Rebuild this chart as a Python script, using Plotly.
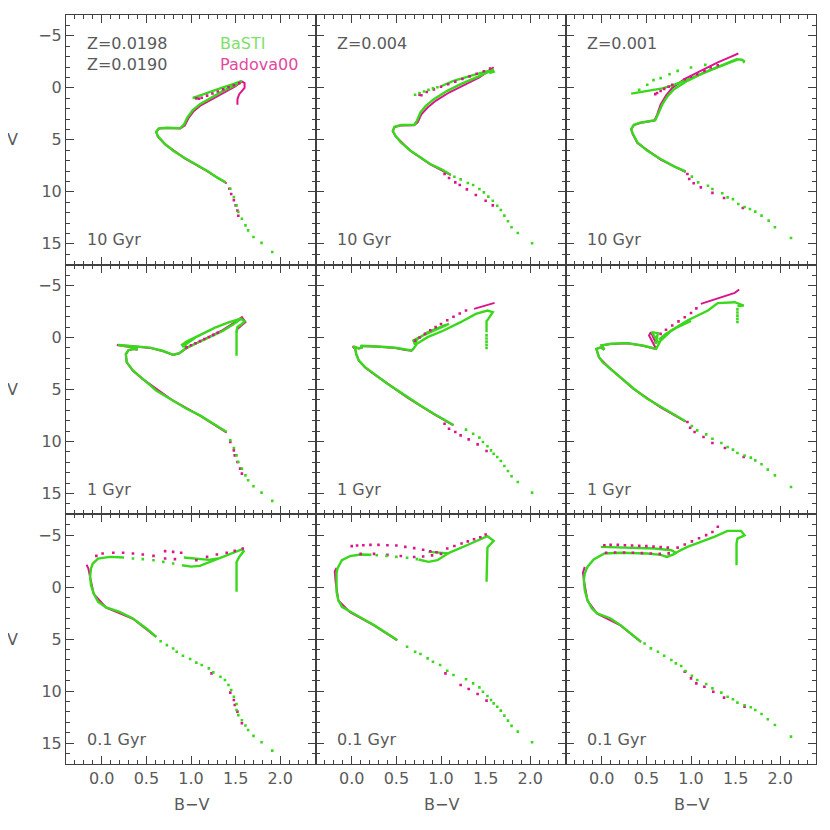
import plotly.graph_objects as go
from plotly.subplots import make_subplots

# ---- 10 Gyr, Z=0.0198 (BaSTI) / Z=0.0190 (Padova00) ----
basti_a_line_bv = [1.39, 1.29, 1.18, 1.06, 0.93, 0.80, 0.71, 0.63, 0.61, 0.64, 0.73, 0.88, 0.92, 0.96, 1.02, 1.10, 1.23, 1.36, 1.48, 1.56,
                   None, 1.10, 1.02, 1.08, 1.20, 1.35, 1.48, 1.57]
basti_a_line_v = [9.09, 8.61, 7.97, 7.39, 6.75, 6.05, 5.41, 4.67, 4.22, 3.90, 3.84, 3.87, 3.55, 2.85, 2.14, 1.57, 0.93, 0.29, -0.19, -0.60,
                  None, 1.05, 0.96, 0.80, 0.42, -0.02, -0.38, -0.67]
basti_a_dots_bv = [1.91, 1.79, 1.70, 1.64, 1.61, 1.57, 1.53, 1.51, 1.48, 1.44]
basti_a_dots_v = [15.78, 14.91, 14.34, 13.70, 13.22, 12.58, 11.94, 11.30, 10.50, 9.70]
padova_a_line_bv = [1.40, 1.18, 0.93, 0.71, 0.63, 0.61, 0.64, 0.73, 0.88, 0.93, 0.97, 1.03, 1.11, 1.24, 1.37, 1.49, 1.57, 1.60, 1.60, 1.54, 1.52, 1.52]
padova_a_line_v = [9.20, 8.00, 6.78, 5.44, 4.70, 4.25, 3.92, 3.86, 3.90, 3.62, 2.95, 2.25, 1.68, 1.05, 0.40, -0.10, -0.62, -0.45, 0.00, 0.61, 1.09, 1.63]
padova_a_dots_bv = [1.06, 1.09, 1.12, 1.18, 1.24, 1.30, 1.36, 1.42, 1.48, 1.54, 1.43, 1.45, 1.48, 1.50, 1.52, 1.53]
padova_a_dots_v = [1.00, 1.05, 0.95, 0.75, 0.55, 0.35, 0.15, -0.05, -0.25, -0.45, 9.70, 10.20, 10.80, 11.30, 11.80, 12.30]

# ---- 10 Gyr, Z=0.004 ----
basti_b_line_bv = [1.11, 1.00, 0.88, 0.77, 0.66, 0.55, 0.49, 0.46, 0.48, 0.55, 0.70, 0.73, 0.77, 0.83, 0.92, 1.07, 1.22, 1.41, 1.52, 1.58, 1.59, 1.54,
                   None, 1.00, 1.14, 1.37, 1.58]
basti_b_line_v = [8.35, 7.81, 7.33, 6.69, 6.05, 5.25, 4.61, 4.13, 3.74, 3.58, 3.55, 3.17, 2.37, 1.73, 1.09, 0.29, -0.35, -1.06, -1.50, -1.72, -1.55, -1.42,
                  None, -0.15, -0.67, -1.25, -1.75]
basti_b_dots_bv = [0.71, 0.76, 0.81, 0.86, 0.91, 0.96, 1.15, 1.22, 1.30, 1.36, 1.43, 1.48, 1.53, 1.58, 1.63, 1.67, 1.71, 1.75, 1.79, 1.86, 2.02]
basti_b_dots_v = [0.67, 0.50, 0.35, 0.20, 0.05, -0.05, 8.55, 8.80, 9.15, 9.34, 9.73, 10.05, 10.46, 10.85, 11.33, 11.74, 12.29, 12.83, 13.41, 13.95, 14.94]
padova_b_line_bv = [1.11, 0.88, 0.66, 0.49, 0.46, 0.48, 0.55, 0.70, 0.74, 0.78, 0.85, 0.94, 1.09, 1.24, 1.43, 1.59]
padova_b_line_v = [8.40, 7.36, 6.08, 4.64, 4.16, 3.77, 3.62, 3.60, 3.30, 2.55, 1.90, 1.25, 0.45, -0.22, -1.00, -1.98]
padova_b_dots_bv = [0.76, 0.78, 0.84, 0.92, 1.00, 1.08, 1.16, 1.24, 1.32, 1.40, 1.48, 1.55, 1.04, 1.09, 1.16, 1.21, 1.29, 1.39, 1.50, 1.58]
padova_b_dots_v = [0.67, 0.72, 0.40, 0.15, -0.10, -0.35, -0.60, -0.85, -1.10, -1.35, -1.60, -1.85, 8.29, 8.67, 9.09, 9.34, 9.76, 10.30, 10.85, 11.30]

# ---- 10 Gyr, Z=0.001 ----
basti_c_line_bv = [0.94, 0.81, 0.66, 0.51, 0.40, 0.35, 0.33, 0.36, 0.44, 0.60, 0.63, 0.68, 0.74, 0.81, 0.96, 1.15, 1.38, 1.51, 1.57, 1.60, 1.58,
                   None, 0.33, 0.45, 0.58, 0.68, 0.80, 1.00, 1.20, 1.40, 1.52]
basti_c_line_v = [8.03, 7.55, 6.85, 6.05, 5.25, 4.45, 3.97, 3.55, 3.33, 3.10, 2.53, 1.57, 0.77, 0.13, -0.67, -1.47, -2.27, -2.75, -2.70, -2.53, -2.45,
                  None, 0.56, 0.40, 0.22, 0.05, -0.25, -0.90, -1.65, -2.35, -2.70]
basti_c_dots_bv = [0.42, 0.51, 0.58, 0.66, 0.76, 0.85, 1.00, 1.16,
                   1.01, 1.08, 1.19, 1.24, 1.35, 1.41, 1.47, 1.53, 1.60, 1.66, 1.72, 1.79, 1.87, 1.94, 2.12]
basti_c_dots_v = [0.19, -0.29, -0.74, -0.93, -1.31, -1.63, -1.95, -2.21,
                  8.54, 9.09, 9.41, 9.73, 10.14, 10.53, 10.70, 11.17, 11.45, 11.65, 11.90, 12.29, 12.77, 13.41, 14.43]
padova_c_line_bv = [0.94, 0.66, 0.40, 0.35, 0.33, 0.36, 0.44, 0.59, 0.62, 0.66, 0.72, 0.79, 0.93, 1.12, 1.30, 1.45, 1.53]
padova_c_line_v = [8.10, 6.90, 5.30, 4.50, 4.00, 3.58, 3.36, 3.15, 2.60, 1.60, 0.75, 0.00, -0.85, -1.70, -2.45, -3.00, -3.30]
padova_c_dots_bv = [0.60, 0.62, 0.66, 0.70, 0.75, 0.79, 0.93, 1.00, 1.07, 1.15, 1.22, 1.30, 0.96, 0.98, 1.03, 1.11, 1.24, 1.37, 1.58]
padova_c_dots_v = [0.61, 0.50, 0.30, 0.10, -0.10, -0.30, -0.83, -1.06, -1.31, -1.63, -1.95, -2.17, 8.29, 8.77, 9.18, 9.57, 10.10, 10.59, 11.55]

# ---- 1 Gyr, Z=0.0198 / 0.0190 ----
basti_d_line_bv = [1.40, 1.25, 1.10, 0.95, 0.80, 0.61, 0.46, 0.35, 0.28, 0.27, 0.30, 0.36, 0.40, 0.37, 0.18, 0.35, 0.54, 0.69, 0.80, 0.87,
                   0.95, 1.05, 1.20, 1.35, 1.48, 1.56, 1.60, 1.57, 1.52, 1.51, 1.51,
                   None, 0.92, 0.90, 0.95, 1.10, 1.27, 1.20, 1.05, 0.95, 0.92,
                   None, 1.27, 1.42, 1.56]
basti_d_line_v = [9.09, 8.29, 7.49, 6.85, 6.05, 5.09, 3.97, 3.17, 2.37, 1.60, 1.20, 1.10, 1.15, 0.95, 0.72, 0.82, 0.98, 1.30, 1.66, 1.50,
                  1.00, 0.60, 0.00, -0.60, -1.30, -1.80, -1.55, -1.30, -1.00, -0.60, 1.75,
                  None, 0.95, 0.70, 0.40, -0.25, -0.95, -0.70, 0.00, 0.60, 0.95,
                  None, -0.95, -1.45, -1.80]
basti_d_dots_bv = [1.91, 1.79, 1.70, 1.64, 1.61, 1.57, 1.53, 1.51, 1.48, 1.44]
basti_d_dots_v = [15.71, 14.91, 14.30, 13.73, 13.25, 12.61, 11.97, 11.33, 10.62, 9.89]
padova_d_line_bv = [1.40, 1.10, 0.80, 0.46, 0.35, 0.28, 0.27, 0.30, 0.36, 0.40, 0.37, 0.17, 0.35, 0.54, 0.69, 0.80, 0.87, 0.95, 1.05, 1.20,
                    1.35, 1.48, 1.57, 1.61, 1.52, 1.51]
padova_d_line_v = [9.15, 7.52, 6.08, 4.00, 3.20, 2.40, 1.62, 1.22, 1.12, 1.18, 0.98, 0.72, 0.84, 1.00, 1.33, 1.68, 1.52, 1.02, 0.58, -0.05,
                   -0.68, -1.40, -1.95, -1.47, -0.83, -0.50]
padova_d_dots_bv = [0.95, 1.00, 1.05, 1.10, 1.15, 1.20, 1.25, 1.30, 1.44, 1.48, 1.49, 1.52, 1.55, 1.57]
padova_d_dots_v = [0.95, 0.75, 0.55, 0.35, 0.15, -0.05, -0.25, -0.45, 10.05, 10.85, 11.33, 11.97, 12.61, 13.09]

# ---- 1 Gyr, Z=0.004 ----
basti_e_line_bv = [1.14, 1.03, 0.92, 0.77, 0.62, 0.53, 0.40, 0.25, 0.15, 0.08, 0.05, 0.04, 0.02, 0.08, 0.12, 0.10, 0.30, 0.49, 0.60, 0.67,
                   0.70, 0.73, 0.85, 1.03, 1.22, 1.39, 1.52, 1.58, 1.53, 1.51, 1.51,
                   None, 0.71, 0.69, 0.75, 0.90, 1.09, 1.03, 0.85, 0.73, 0.71]
basti_e_line_v = [8.42, 7.90, 7.33, 6.53, 5.73, 5.18, 4.45, 3.49, 2.85, 2.21, 1.57, 1.09, 0.86, 1.05, 0.95, 0.80, 0.86, 0.99, 1.18, 1.25,
                  0.99, 0.61, -0.03, -0.67, -1.47, -2.27, -2.59, -2.43, -1.79, -1.57, -0.51,
                  None, 0.70, 0.30, 0.00, -0.55, -1.30, -1.15, -0.50, 0.20, 0.70]
basti_e_dots_bv = [1.51, 1.51, 1.51, 1.51, 1.51, 1.28, 1.36, 1.43, 1.47, 1.52, 1.56, 1.59, 1.63, 1.67, 1.71, 1.75, 1.79, 1.86, 2.02]
basti_e_dots_v = [-0.20, 0.10, 0.40, 0.70, 1.00, 8.86, 9.25, 9.63, 10.05, 10.46, 10.85, 11.17, 11.49, 11.87, 12.35, 12.83, 13.34, 13.89, 14.91]
padova_e_line_bv = [1.14, 0.92, 0.62, 0.40, 0.25, 0.15, 0.08, 0.05, 0.04, 0.01, 0.08, 0.12, 0.10, 0.30, 0.49, 0.60, 0.67, 0.70,
                    None, 1.37, 1.48, 1.60]
padova_e_line_v = [8.45, 7.36, 5.76, 4.48, 3.52, 2.88, 2.24, 1.60, 1.12, 0.86, 1.06, 0.96, 0.82, 0.88, 1.01, 1.20, 1.27, 1.00,
                   None, -2.75, -3.05, -3.33]
padova_e_dots_bv = [0.71, 0.76, 0.82, 0.88, 0.94, 1.00, 1.07, 1.14, 1.21, 1.28, 1.04, 1.09, 1.16, 1.22, 1.31, 1.41, 1.51]
padova_e_dots_v = [0.30, 0.00, -0.35, -0.70, -1.00, -1.30, -1.65, -2.00, -2.30, -2.60, 8.29, 8.77, 9.09, 9.41, 9.79, 10.27, 10.91]

# ---- 1 Gyr, Z=0.001 ----
basti_f_line_bv = [0.94, 0.81, 0.66, 0.51, 0.36, 0.21, 0.10, 0.01, -0.03, -0.05, -0.06, -0.01, 0.03, 0.00, 0.10, 0.29, 0.46, 0.61,
                   0.66, 0.78, 0.96, 1.19, 1.30, 1.49, 1.59, 1.52,
                   None, 0.64, 0.56, 0.63, 0.60,
                   None, 0.64, 0.72, 0.85, 1.00]
basti_f_line_v = [8.06, 7.39, 6.69, 5.89, 4.93, 3.81, 3.01, 2.37, 1.89, 1.41, 1.09, 0.95, 1.15, 0.75, 0.60, 0.54, 0.77, 1.09,
                  0.29, -0.67, -1.63, -2.59, -3.30, -3.39, -3.07, -3.01,
                  None, 0.55, -0.51, -0.42, 0.61,
                  None, 0.20, -0.35, -1.00, -1.60]
basti_f_dots_bv = [1.52, 1.52, 1.52, 1.52, 1.52, 1.01, 1.07, 1.17, 1.24, 1.34, 1.41, 1.47, 1.52, 1.60, 1.67, 1.72, 1.79, 1.86, 1.94, 2.12]
basti_f_dots_v = [-2.70, -2.40, -2.10, -1.80, -1.50, 8.51, 8.93, 9.31, 9.73, 10.14, 10.53, 10.78, 11.10, 11.35, 11.55, 11.81, 12.19, 12.70, 13.25, 14.37]
padova_f_line_bv = [0.94, 0.66, 0.36, 0.10, -0.03, -0.06, -0.01, 0.03, 0.00, 0.10, 0.29, 0.46, 0.61, 0.53, 0.55, 0.61,
                    None, 1.11, 1.30, 1.49, 1.54]
padova_f_line_v = [8.10, 6.72, 4.96, 3.04, 1.92, 1.12, 0.97, 1.17, 0.77, 0.62, 0.56, 0.79, 1.11, -0.19, -0.51, 0.61,
                   None, -3.23, -3.75, -4.29, -4.61]
padova_f_dots_bv = [0.66, 0.72, 0.79, 0.86, 0.93, 1.00, 1.06, 0.96, 0.99, 1.04, 1.14, 1.24, 1.38, 1.59]
padova_f_dots_v = [-0.35, -0.75, -1.15, -1.55, -1.95, -2.35, -2.80, 8.13, 8.67, 9.09, 9.57, 10.14, 10.62, 11.49]

# ---- 0.1 Gyr, Z=0.0198 / 0.0190 ----
basti_g_line_bv = [0.61, 0.50, 0.35, 0.20, 0.05, -0.04, -0.09, -0.12, -0.13, -0.12, -0.10, -0.04, 0.09, 0.25,
                   None, 0.90, 1.00, 1.10, 1.25, 1.40, 1.50, 1.57, 1.59, 1.54, 1.51, 1.51,
                   None, 0.92, 1.05, 1.20, 1.30]
basti_g_line_v = [4.77, 3.97, 3.01, 2.37, 1.95, 1.41, 0.61, -0.19, -0.99, -1.79, -2.27, -2.75, -2.91, -2.85,
                  None, -2.11, -1.97, -2.05, -2.55, -3.00, -3.35, -3.62, -3.45, -2.90, -2.40, 0.45,
                  None, -2.85, -2.72, -2.62, -2.75]
basti_g_dots_bv = [0.35, 0.46, 0.58, 0.69, 0.80, 0.66, 0.73, 0.80, 0.84, 0.91, 0.99, 1.06, 1.12, 1.20, 1.25, 1.33, 1.38, 1.42,
                   1.45, 1.48, 1.51, 1.51, 1.53, 1.57, 1.61, 1.64, 1.70, 1.79, 1.91]
basti_g_dots_v = [-2.75, -2.69, -2.59, -2.43, -2.27, 5.20, 5.57, 5.90, 6.21, 6.59, 6.91, 7.26, 7.49, 7.81, 8.19, 8.61, 8.93, 9.41,
                  9.89, 10.53, 11.23, 11.81, 12.30, 12.80, 13.30, 13.73, 14.30, 14.91, 15.71]
padova_g_line_bv = [0.61, 0.35, 0.05, -0.09, -0.13, -0.15, -0.17]
padova_g_line_v = [4.80, 3.04, 1.98, 0.64, -0.96, -1.80, -2.15]
padova_g_dots_bv = [-0.06, 0.01, 0.13, 0.24, 0.35, 0.46, 0.58, 0.71, 0.80, 0.89, 0.71, 0.82,
                    1.06, 1.18, 1.29, 1.40, 1.49, 1.58, 1.23, 1.44, 1.48, 1.49, 1.52, 1.57]
padova_g_dots_v = [-3.01, -3.23, -3.30, -3.30, -3.23, -3.14, -3.01, -3.46, -3.39, -3.30, -2.75, -2.69,
                   -2.59, -2.91, -3.14, -3.30, -3.49, -3.71, 8.29, 10.14, 10.85, 11.33, 11.97, 13.09]

# ---- 0.1 Gyr, Z=0.004 ----
basti_h_line_bv = [0.51, 0.40, 0.25, 0.10, -0.02, -0.11, -0.15, -0.17, -0.17, -0.17, -0.16, -0.11, -0.02, 0.10, 0.22,
                   None, 0.75, 0.86, 0.96, 1.09, 1.29, 1.52, 1.59, 1.52, 1.51,
                   None, 0.86, 0.99, 1.09]
basti_h_line_v = [5.09, 4.45, 3.65, 2.91, 2.37, 1.89, 1.25, 0.45, -0.51, -1.31, -1.79, -2.59, -2.98, -3.14, -3.12,
                  None, -2.66, -2.43, -2.59, -3.30, -4.03, -4.90, -4.45, -3.81, -0.51,
                  None, -3.39, -3.33, -3.25]
basti_h_dots_bv = [0.28, 0.39, 0.50, 0.62, 0.73, 0.62, 0.71, 0.77, 0.85, 0.91, 0.99, 1.07, 1.14, 1.28, 1.36, 1.43, 1.47, 1.52,
                   1.56, 1.59, 1.63, 1.67, 1.71, 1.75, 1.79, 1.86, 2.02]
basti_h_dots_v = [-3.07, -3.01, -2.91, -2.82, -2.69, 5.73, 6.21, 6.43, 6.85, 7.17, 7.49, 8.03, 8.45, 8.86, 9.25, 9.63, 10.05, 10.46,
                  10.85, 11.17, 11.49, 11.87, 12.35, 12.83, 13.34, 13.89, 14.91]
padova_h_line_bv = [0.51, 0.25, -0.02, -0.15, -0.18, -0.19, -0.17]
padova_h_line_v = [5.12, 3.68, 2.40, 1.28, -0.50, -1.50, -1.85]
padova_h_dots_bv = [0.00, 0.06, 0.13, 0.21, 0.30, 0.40, 0.50, 0.60, 0.70, 0.80, 0.88, 0.95,
                    0.10, 0.25, 0.40, 0.55, 0.70, 0.80, 0.90, 1.00,
                    1.07, 1.15, 1.23, 1.30, 1.37, 1.44, 1.50, 1.05, 1.22, 1.31, 1.41, 1.51]
padova_h_dots_v = [-3.94, -4.00, -4.03, -4.06, -4.06, -4.03, -4.00, -3.87, -3.75, -3.60, -3.45, -3.35,
                   -3.20, -3.20, -3.10, -3.00, -2.90, -2.95, -3.05, -3.20,
                   -3.71, -3.95, -4.20, -4.40, -4.60, -4.80, -5.06, 8.29, 9.41, 9.79, 10.27, 10.91]

# ---- 0.1 Gyr, Z=0.001 ----
basti_i_line_bv = [0.44, 0.33, 0.21, 0.10, -0.05, -0.11, -0.16, -0.19, -0.20, -0.19, -0.16, -0.09, 0.03, 0.21, 0.51, 0.66, 0.73, 0.81,
                   0.87, 0.96, 1.26, 1.41, 1.56, 1.60, 1.52, 1.51, 1.51,
                   None, -0.01, 0.29, 0.59, 0.78, 0.83]
basti_i_line_v = [5.25, 4.45, 3.65, 3.01, 2.53, 2.05, 1.25, 0.29, -0.67, -1.31, -1.95, -2.66, -3.23, -3.30, -3.23, -3.10, -2.91, -3.17,
                  -3.49, -3.87, -4.83, -5.41, -5.41, -4.99, -4.67, -4.19, -2.11,
                  None, -3.87, -3.81, -3.71, -3.55, -3.30]
basti_i_dots_bv = [0.48, 0.55, 0.63, 0.70, 0.78, 0.83, 0.89, 0.94, 1.01, 1.07, 1.17, 1.24, 1.34, 1.41, 1.47, 1.52, 1.60, 1.67,
                   1.72, 1.79, 1.86, 1.94, 2.12]
basti_i_dots_v = [5.41, 5.89, 6.21, 6.59, 7.01, 7.33, 7.58, 8.06, 8.51, 8.93, 9.31, 9.73, 10.14, 10.53, 10.78, 11.10, 11.35, 11.55,
                  11.81, 12.19, 12.70, 13.25, 14.37]
padova_i_line_bv = [0.44, 0.21, -0.05, -0.16, -0.20, -0.21, -0.19]
padova_i_line_v = [5.28, 3.68, 2.56, 1.28, -0.67, -1.40, -1.95]
padova_i_dots_bv = [0.03, 0.10, 0.18, 0.26, 0.34, 0.42, 0.50, 0.58, 0.66, 0.74,
                    0.05, 0.15, 0.25, 0.35, 0.45, 0.55, 0.65, 0.75,
                    0.85, 0.93, 1.01, 1.09, 1.17, 1.24, 1.30, 0.93, 1.00, 1.06, 1.15, 1.25, 1.37, 1.60]
padova_i_dots_v = [-4.03, -4.06, -4.06, -4.03, -4.00, -3.97, -3.94, -3.90, -3.85, -3.80,
                   -3.30, -3.33, -3.33, -3.30, -3.27, -3.23, -3.20, -3.25,
                   -3.80, -4.10, -4.40, -4.70, -5.00, -5.30, -5.80, 8.13, 8.77, 9.25, 9.57, 10.05, 10.62, 11.49]

age_labels = ["10 Gyr", "1 Gyr", "0.1 Gyr"]
z_labels = ["Z=0.0198<br>Z=0.0190", "Z=0.004", "Z=0.001"]

GREEN = "#3ad81c"
MAGENTA = "#dc158c"
TEXT = "#5a5a5a"
AXIS = "#404040"
FONT = "DejaVu Sans"

panels = [
    (1, 1, basti_a_line_bv, basti_a_line_v, basti_a_dots_bv, basti_a_dots_v, padova_a_line_bv, padova_a_line_v, padova_a_dots_bv, padova_a_dots_v),
    (1, 2, basti_b_line_bv, basti_b_line_v, basti_b_dots_bv, basti_b_dots_v, padova_b_line_bv, padova_b_line_v, padova_b_dots_bv, padova_b_dots_v),
    (1, 3, basti_c_line_bv, basti_c_line_v, basti_c_dots_bv, basti_c_dots_v, padova_c_line_bv, padova_c_line_v, padova_c_dots_bv, padova_c_dots_v),
    (2, 1, basti_d_line_bv, basti_d_line_v, basti_d_dots_bv, basti_d_dots_v, padova_d_line_bv, padova_d_line_v, padova_d_dots_bv, padova_d_dots_v),
    (2, 2, basti_e_line_bv, basti_e_line_v, basti_e_dots_bv, basti_e_dots_v, padova_e_line_bv, padova_e_line_v, padova_e_dots_bv, padova_e_dots_v),
    (2, 3, basti_f_line_bv, basti_f_line_v, basti_f_dots_bv, basti_f_dots_v, padova_f_line_bv, padova_f_line_v, padova_f_dots_bv, padova_f_dots_v),
    (3, 1, basti_g_line_bv, basti_g_line_v, basti_g_dots_bv, basti_g_dots_v, padova_g_line_bv, padova_g_line_v, padova_g_dots_bv, padova_g_dots_v),
    (3, 2, basti_h_line_bv, basti_h_line_v, basti_h_dots_bv, basti_h_dots_v, padova_h_line_bv, padova_h_line_v, padova_h_dots_bv, padova_h_dots_v),
    (3, 3, basti_i_line_bv, basti_i_line_v, basti_i_dots_bv, basti_i_dots_v, padova_i_line_bv, padova_i_line_v, padova_i_dots_bv, padova_i_dots_v),
]

fig = make_subplots(rows=3, cols=3, shared_xaxes=True, shared_yaxes=True,
                    horizontal_spacing=0, vertical_spacing=0)

for row, col, bl_x, bl_y, bd_x, bd_y, pl_x, pl_y, pd_x, pd_y in panels:
    fig.add_trace(go.Scatter(x=pl_x, y=pl_y, mode="lines", line=dict(color=MAGENTA, width=2),
                             connectgaps=False, hoverinfo="skip"), row=row, col=col)
    fig.add_trace(go.Scatter(x=bl_x, y=bl_y, mode="lines", line=dict(color=GREEN, width=2.4),
                             connectgaps=False, hoverinfo="skip"), row=row, col=col)
    fig.add_trace(go.Scatter(x=pd_x, y=pd_y, mode="markers",
                             marker=dict(color=MAGENTA, size=2.6, symbol="square"), hoverinfo="skip"), row=row, col=col)
    fig.add_trace(go.Scatter(x=bd_x, y=bd_y, mode="markers",
                             marker=dict(color=GREEN, size=2.6, symbol="square"), hoverinfo="skip"), row=row, col=col)

axis_style = dict(showline=True, linecolor=AXIS, linewidth=1, mirror="allticks", automargin=False,
                  ticks="inside", tickcolor=AXIS, showgrid=False, zeroline=False,
                  tickfont=dict(family=FONT, size=16, color=TEXT))
fig.update_xaxes(range=[-0.4, 2.4], dtick=0.5, tick0=0, tickformat=".1f", ticklen=8,
                 minor=dict(dtick=0.1, ticklen=4, ticks="inside", tickcolor=AXIS), **axis_style)
fig.update_yaxes(range=[17, -7], dtick=5, tick0=0, ticklen=8,
                 minor=dict(dtick=1, ticklen=4, ticks="inside", tickcolor=AXIS), **axis_style)

annotations = []
for r in range(3):
    for c in range(3):
        idx = r * 3 + c + 1
        ref = "x domain" if idx == 1 else f"x{idx} domain"
        yref = "y domain" if idx == 1 else f"y{idx} domain"
        annotations.append(dict(text=age_labels[r], xref=ref, yref=yref, x=0.076, y=0.10,
                                xanchor="left", yanchor="middle", showarrow=False,
                                font=dict(family=FONT, size=16, color=TEXT)))
        if c == 0:
            # y axis title, left of the first column
            annotations.append(dict(text="V", xref=ref, yref=yref, x=-0.216, y=0.5,
                                    xanchor="center", yanchor="middle", showarrow=False,
                                    font=dict(family=FONT, size=16, color=TEXT)))
        if r == 2:
            # x axis title, under the bottom row
            annotations.append(dict(text="B−V", xref=ref, yref=yref, x=0.5, y=-0.164,
                                    xanchor="center", yanchor="middle", showarrow=False,
                                    font=dict(family=FONT, size=16, color=TEXT)))
for c in range(3):
    ref = "x domain" if c == 0 else f"x{c + 1} domain"
    yref = "y domain" if c == 0 else f"y{c + 1} domain"
    annotations.append(dict(text=z_labels[c], xref=ref, yref=yref, x=0.074, y=0.93,
                            xanchor="left", yanchor="top", showarrow=False, align="left",
                            font=dict(family=FONT, size=16, color=TEXT)))
annotations.append(dict(text="<span style='color:#7fe06a'>BaSTI</span><br><span style='color:#e2489e'>Padova00</span>",
                        xref="x domain", yref="y domain", x=0.608, y=0.93,
                        xanchor="left", yanchor="top", showarrow=False, align="left",
                        font=dict(family=FONT, size=16, color=TEXT)))

fig.update_layout(width=830, height=830, showlegend=False,
                  plot_bgcolor="white", paper_bgcolor="white",
                  margin=dict(l=58, r=22, t=7, b=74),
                  annotations=annotations)

fig.write_html("out.html")
